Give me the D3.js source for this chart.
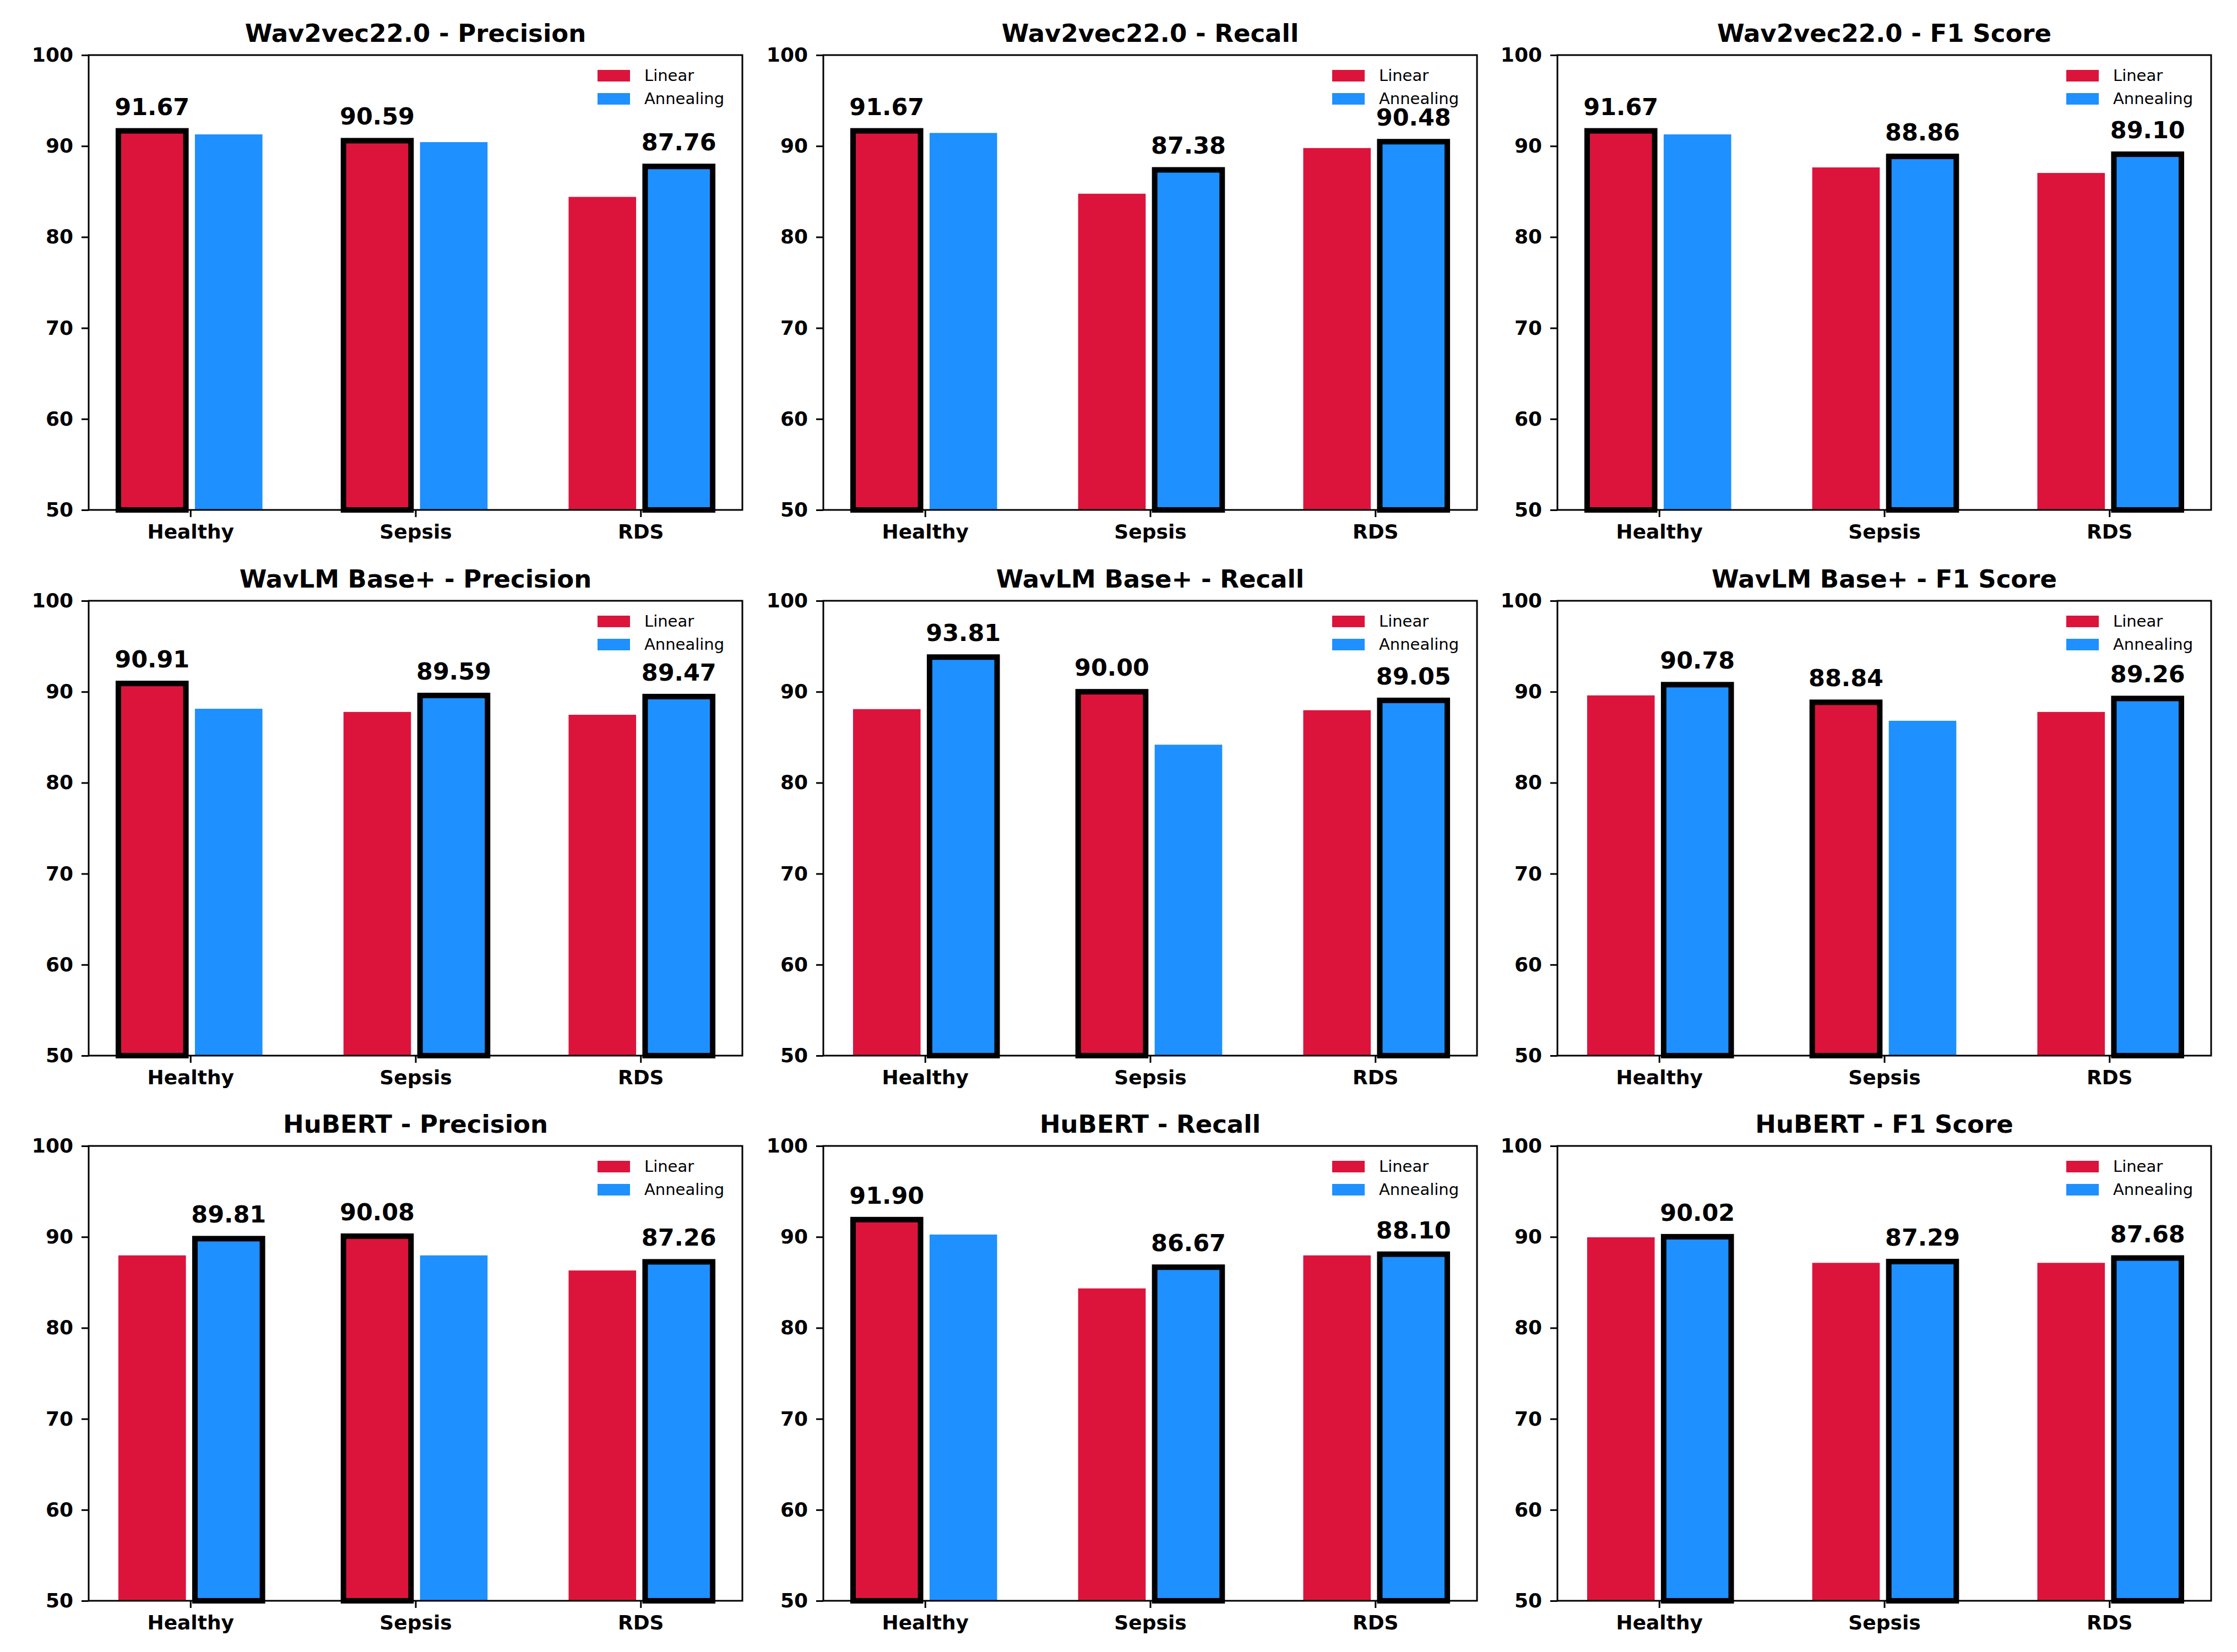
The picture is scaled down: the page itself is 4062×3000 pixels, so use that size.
<!DOCTYPE html>
<html>
<head>
<meta charset="utf-8">
<script src="https://cdn.jsdelivr.net/npm/d3@7"></script>
<style>
  body { margin: 0; background: #fff; }
  text { font-family: "DejaVu Sans", sans-serif; }
</style>
</head>
<body>
<svg id="viz"></svg>
<script>
// categories and series
var categories = ["Healthy", "Sepsis", "RDS"];
var methods = ["Linear", "Annealing"];
var models = ["Wav2vec22.0", "WavLM Base+", "HuBERT"];
var metrics = ["Precision", "Recall", "F1 Score"];
var yTicks = [50, 60, 70, 80, 90, 100];

var wav2vecPrecisionLinear    = [91.67, 90.59, 84.41];
var wav2vecPrecisionAnnealing = [91.28, 90.43, 87.76];
var wav2vecRecallLinear       = [91.67, 84.76, 89.78];
var wav2vecRecallAnnealing    = [91.44, 87.38, 90.48];
var wav2vecF1Linear           = [91.67, 87.65, 87.04];
var wav2vecF1Annealing        = [91.28, 88.86, 89.10];

var wavlmPrecisionLinear      = [90.91, 87.78, 87.47];
var wavlmPrecisionAnnealing   = [88.13, 89.59, 89.47];
var wavlmRecallLinear         = [88.09, 90.00, 87.97];
var wavlmRecallAnnealing      = [93.81, 84.18, 89.05];
var wavlmF1Linear             = [89.60, 88.84, 87.78];
var wavlmF1Annealing          = [90.78, 86.81, 89.26];

var hubertPrecisionLinear     = [87.97, 90.08, 86.31];
var hubertPrecisionAnnealing  = [89.81, 87.97, 87.26];
var hubertRecallLinear        = [91.90, 84.34, 87.97];
var hubertRecallAnnealing     = [90.26, 86.67, 88.10];
var hubertF1Linear            = [89.96, 87.15, 87.15];
var hubertF1Annealing         = [90.02, 87.29, 87.68];

var seriesGrid = [
    [[wav2vecPrecisionLinear, wav2vecPrecisionAnnealing], [wav2vecRecallLinear, wav2vecRecallAnnealing], [wav2vecF1Linear, wav2vecF1Annealing]],
    [[wavlmPrecisionLinear, wavlmPrecisionAnnealing], [wavlmRecallLinear, wavlmRecallAnnealing], [wavlmF1Linear, wavlmF1Annealing]],
    [[hubertPrecisionLinear, hubertPrecisionAnnealing], [hubertRecallLinear, hubertRecallAnnealing], [hubertF1Linear, hubertF1Annealing]]
];

var colors = ["#DC143C", "#1E90FF"];

var W = 4062, H = 3000;
var colLeft = [161, 1495, 2828];
var rowTop = [100, 1091, 2081];
var plotW = 1187, plotH = 826;

var svg = d3.select("#viz").attr("width", W).attr("height", H);
svg.append("rect").attr("width", W).attr("height", H).attr("fill", "#fff");

var x = d3.scalePoint().domain(categories).range([0, plotW]).padding(0.452);
var y = d3.scaleLinear().domain([50, 100]).range([plotH, 0]);
var step = x.step();
var barW = 0.30 * step;
var offset = 0.17 * step;

function drawPanel(r, c) {
    var series = seriesGrid[r][c];
    var g = svg.append("g").attr("transform", "translate(" + colLeft[c] + "," + rowTop[r] + ")");

    var bars = [];
    categories.forEach(function (cat, i) {
        var best = series[0][i] >= series[1][i] ? 0 : 1;
        methods.forEach(function (m, j) {
            bars.push({cat: cat, method: j, value: series[j][i], best: j === best});
        });
    });

    g.selectAll("rect.bar").data(bars).enter().append("rect")
        .attr("class", "bar")
        .attr("x", function (d) { return x(d.cat) + (d.method === 0 ? -offset : offset) - barW / 2; })
        .attr("y", function (d) { return y(d.value); })
        .attr("width", barW)
        .attr("height", function (d) { return plotH - y(d.value); })
        .attr("fill", function (d) { return colors[d.method]; })
        .attr("stroke", function (d) { return d.best ? "#000" : "none"; })
        .attr("stroke-width", 10);

    // value only over the better bar of each group
    g.selectAll("text.val").data(bars.filter(function (d) { return d.best; })).enter().append("text")
        .attr("class", "val")
        .attr("x", function (d) { return x(d.cat) + (d.method === 0 ? -offset : offset); })
        .attr("y", function (d) { return y(d.value) - 29; })
        .attr("text-anchor", "middle")
        .attr("font-size", 43)
        .attr("font-weight", "bold")
        .text(function (d) { return d.value.toFixed(2); });

    g.append("rect").attr("width", plotW).attr("height", plotH)
        .attr("fill", "none").attr("stroke", "#000").attr("stroke-width", 3);

    var ya = g.append("g").call(d3.axisLeft(y).tickValues(yTicks).tickSize(13).tickPadding(15));
    var xa = g.append("g").attr("transform", "translate(0," + plotH + ")")
        .call(d3.axisBottom(x).tickSize(13).tickPadding(13));
    [ya, xa].forEach(function (a) {
        a.select(".domain").remove();
        a.selectAll("line").attr("stroke-width", 3);
        a.selectAll("text").attr("font-size", 36).attr("font-weight", "bold")
            .attr("font-family", "DejaVu Sans").attr("fill", "#000");
    });

    g.append("text")
        .attr("x", plotW / 2).attr("y", -24)
        .attr("text-anchor", "middle")
        .attr("font-size", 45).attr("font-weight", "bold")
        .text(models[r] + " - " + metrics[c]);

    var leg = g.selectAll("g.leg").data(methods).enter().append("g")
        .attr("class", "leg")
        .attr("transform", function (d, i) { return "translate(" + (plotW - 263) + "," + (37 + i * 42) + ")"; });
    leg.append("rect").attr("x", 0).attr("y", -10).attr("width", 59).attr("height", 21)
        .attr("fill", function (d, i) { return colors[i]; });
    leg.append("text").attr("x", 85).attr("y", 10).attr("font-size", 29)
        .text(function (d) { return d; });
}

for (var r = 0; r < 3; r++) {
    for (var c = 0; c < 3; c++) {
        drawPanel(r, c);
    }
}
</script>
</body>
</html>
